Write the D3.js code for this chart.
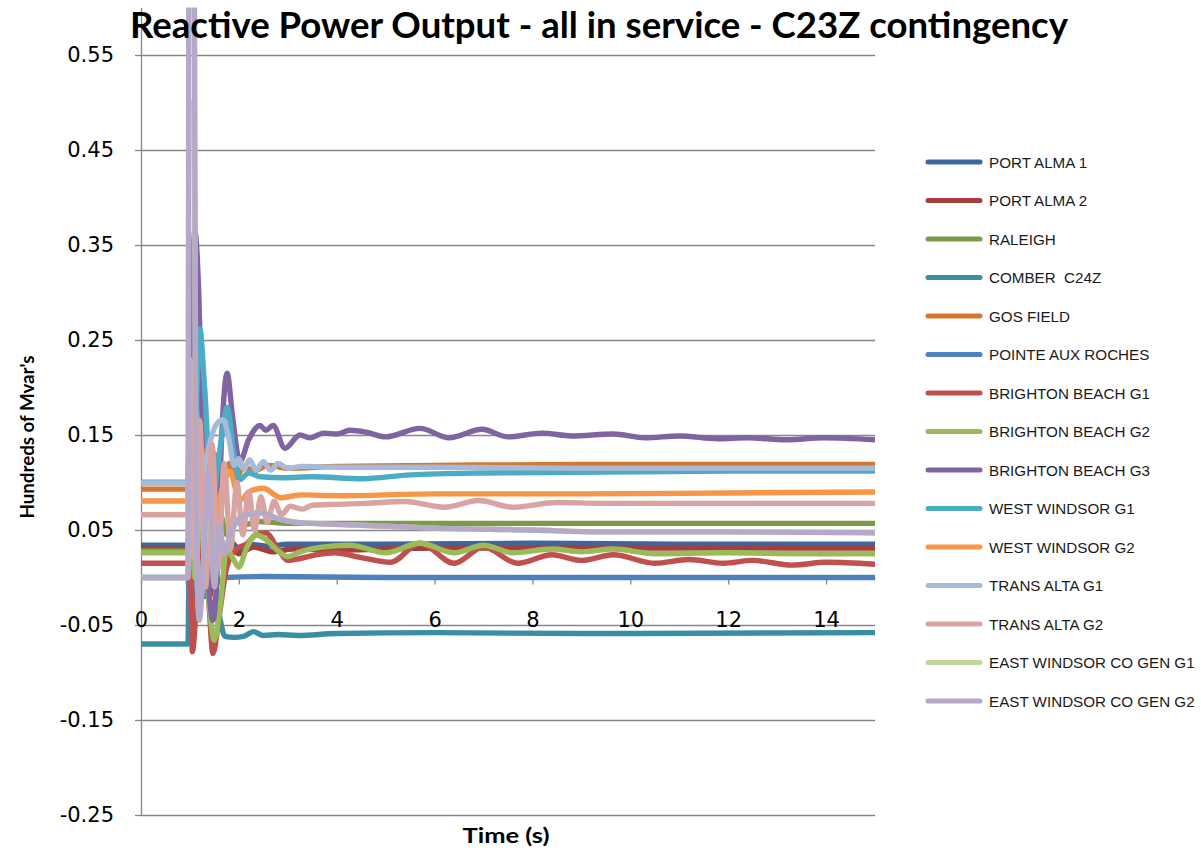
<!DOCTYPE html>
<html>
<head>
<meta charset="utf-8">
<script src="https://cdn.jsdelivr.net/npm/d3@7"></script>
<style>
  body { margin: 0; background: #fff; }
  svg { display: block; }
  .tick text { font-family: "DejaVu Sans", sans-serif; font-size: 21px; fill: #000; }
  .legend text { font-family: "Liberation Sans", Arial, sans-serif; font-size: 15.2px; fill: #1a1a1a; }
</style>
</head>
<body>
<svg id="chart" width="1201" height="856"></svg>
<script>
// series names and colours, same order as the legend
var seriesNames = ['PORT ALMA 1', 'PORT ALMA 2', 'RALEIGH', 'COMBER  C24Z', 'GOS FIELD',
  'POINTE AUX ROCHES', 'BRIGHTON BEACH G1', 'BRIGHTON BEACH G2', 'BRIGHTON BEACH G3',
  'WEST WINDSOR G1', 'WEST WINDSOR G2', 'TRANS ALTA G1', 'TRANS ALTA G2',
  'EAST WINDSOR CO GEN G1', 'EAST WINDSOR CO GEN G2'];
var seriesColors = ['#3D679C', '#A33F3C', '#7D9A48', '#3A8EA3', '#D3782F',
  '#4F81BD', '#C0504D', '#9BBB59', '#8064A2', '#4BACC6', '#F79646',
  '#A7BAD9', '#D8A3A1', '#C3D69B', '#B5A8C8'];

// axis ticks
var yTicks = [-0.25, -0.15, -0.05, 0.05, 0.15, 0.25, 0.35, 0.45, 0.55];
var xTicks = [0, 2, 4, 6, 8, 10, 12, 14];

// [time (s), hundreds of Mvar]
var portAlma1 = [[0,0.034],[0.96,0.034],[1.0,0.09],[1.1,-0.02],[1.25,0.06],[1.4,-0.01],[1.55,0.05],[1.7,0.02],[1.85,0.037],[2.0,0.03],[2.2,0.035],[2.6,0.033],[3,0.035],[5,0.035],[8,0.036],[11,0.035],[15,0.035]];
var portAlma2 = [[0,0.030],[0.96,0.030],[1.0,0.07],[1.1,-0.03],[1.25,0.05],[1.4,-0.02],[1.55,0.04],[1.7,0.01],[1.85,0.03],[2.0,0.025],[2.3,0.032],[2.7,0.027],[3.1,0.03],[4,0.029],[6,0.031],[9,0.031],[15,0.031]];
var raleigh = [[0,0.028],[0.96,0.028],[1.0,0.1],[1.12,-0.01],[1.3,0.09],[1.45,0.02],[1.6,0.07],[1.75,0.045],[1.9,0.06],[2.1,0.055],[2.4,0.059],[3,0.057],[6,0.057],[10,0.057],[15,0.057]];
var comber = [[0,-0.07],[0.96,-0.07],[0.98,0.0],[1.1,0.05],[1.3,-0.02],[1.45,0.02],[1.62,-0.045],[1.72,-0.062],[1.9,-0.063],[2.1,-0.062],[2.3,-0.057],[2.5,-0.061],[2.8,-0.06],[3.2,-0.061],[4,-0.059],[6,-0.058],[9,-0.059],[15,-0.058]];
var gosField = [[0,0.093],[0.96,0.093],[1.0,0.25],[1.08,0.1],[1.2,0.15],[1.35,0.06],[1.5,0.13],[1.65,0.09],[1.8,0.12],[1.95,0.105],[2.1,0.117],[2.3,0.112],[2.6,0.118],[3,0.115],[4,0.117],[6,0.118],[9,0.119],[15,0.119]];
var pointeAuxRoches = [[0,0],[0.96,0],[1.0,-0.04],[1.15,0.03],[1.3,-0.02],[1.45,0.02],[1.6,-0.005],[1.75,0.0],[2.5,0.001],[5,0.0],[15,0.0]];
var brightonG1 = [[0,0.015],[0.96,0.015],[0.99,0.05],[1.05,-0.078],[1.12,-0.04],[1.25,0.06],[1.38,-0.02],[1.47,-0.08],[1.6,-0.04],[1.75,0.01],[1.95,0.03],[2.15,0.035],[2.35,0.045],[2.55,0.047],[2.8,0.03],[3.0,0.018],[3.25,0.02],[3.6,0.024],[3.95,0.026],[4.5,0.021],[5.1,0.016],[5.7,0.036],[6.4,0.015],[7.0,0.032],[7.7,0.015],[8.4,0.024],[9.0,0.018],[9.65,0.024],[10.5,0.015],[11.2,0.019],[11.9,0.015],[12.5,0.018],[13.3,0.013],[14.0,0.016],[15,0.014]];
var brightonG2 = [[0,0.026],[0.96,0.026],[1.0,0.12],[1.1,0.0],[1.25,0.09],[1.38,-0.02],[1.5,-0.066],[1.62,-0.03],[1.75,0.03],[1.88,0.02],[2.0,0.011],[2.15,0.03],[2.35,0.045],[2.55,0.04],[2.8,0.028],[3.0,0.022],[3.25,0.027],[3.7,0.032],[4.27,0.034],[5.0,0.026],[5.7,0.036],[6.4,0.026],[7.0,0.034],[7.6,0.026],[8.4,0.03],[9.0,0.027],[9.65,0.03],[10.5,0.025],[12,0.026],[13.5,0.025],[15,0.025]];
var brightonG3 = [[0,0.1],[0.96,0.1],[1.0,0.2],[1.1,0.365],[1.18,0.3],[1.28,0.1],[1.4,-0.02],[1.47,-0.045],[1.55,0.0],[1.65,0.15],[1.76,0.215],[1.87,0.17],[2.02,0.122],[2.2,0.145],[2.43,0.16],[2.55,0.155],[2.7,0.16],[2.94,0.136],[3.25,0.15],[3.46,0.147],[3.73,0.152],[4.0,0.151],[4.27,0.155],[4.6,0.153],[5.0,0.148],[5.7,0.157],[6.3,0.147],[6.97,0.156],[7.5,0.148],[8.2,0.152],[8.8,0.149],[9.65,0.151],[10.3,0.147],[11.0,0.149],[11.8,0.146],[12.4,0.147],[13.2,0.145],[13.95,0.147],[15,0.145]];
var westWindsorG1 = [[0,0.1],[0.96,0.1],[1.0,0.18],[1.08,0.12],[1.2,0.262],[1.3,0.2],[1.45,0.08],[1.6,0.13],[1.76,0.179],[1.9,0.13],[2.02,0.103],[2.2,0.11],[2.45,0.106],[2.9,0.105],[3.5,0.106],[4.5,0.104],[5.5,0.108],[7,0.11],[9.4,0.111],[12,0.112],[15,0.112]];
var westWindsorG2 = [[0,0.0805],[0.96,0.0805],[1.0,0.22],[1.1,0.03],[1.22,0.14],[1.38,0.02],[1.55,0.07],[1.7,0.1],[1.82,0.112],[1.95,0.09],[2.05,0.082],[2.2,0.09],[2.5,0.094],[2.85,0.084],[3.3,0.087],[4,0.086],[6,0.088],[9,0.088],[12,0.089],[15,0.09]];
var transAltaG1 = [[0,0.0995],[0.96,0.0995],[1.0,0.2],[1.1,0.03],[1.25,0.1],[1.4,0.14],[1.55,0.162],[1.68,0.166],[1.8,0.145],[1.9,0.118],[2.0,0.125],[2.1,0.114],[2.22,0.124],[2.35,0.113],[2.5,0.122],[2.65,0.113],[2.8,0.12],[3.0,0.115],[3.3,0.117],[4,0.116],[6,0.116],[9,0.115],[15,0.115]];
var transAltaG2 = [[0,0.066],[0.96,0.066],[1.0,0.23],[1.08,0.02],[1.2,0.165],[1.32,-0.01],[1.45,0.14],[1.58,0.01],[1.7,0.12],[1.83,0.03],[1.96,0.1],[2.08,0.045],[2.2,0.09],[2.32,0.05],[2.45,0.085],[2.58,0.058],[2.72,0.08],[2.87,0.066],[3.05,0.075],[3.3,0.072],[3.5,0.076],[4,0.077],[4.6,0.078],[5.4,0.08],[6.2,0.074],[6.9,0.081],[7.6,0.074],[8.5,0.079],[9.4,0.078],[12,0.078],[15,0.078]];
// G1 runs under G2 for almost the whole run
var eastWindsorG1 = [[0,0],[0.96,0],[0.98,0.5],[1.09,0.5],[1.12,0.08],[1.19,-0.04],[1.28,0.02],[1.38,0.1],[1.5,-0.005],[1.6,0.055],[1.7,0.026],[1.82,0.045],[1.97,0.06],[2.15,0.066],[2.45,0.068],[2.8,0.062],[3.2,0.058],[4.5,0.055],[6,0.052],[8,0.05],[9.4,0.048],[12,0.048],[15,0.047]];
var eastWindsorG2 = [[0,0],[0.96,0],[0.98,0.64],[1.09,0.64],[1.12,0.1],[1.19,-0.045],[1.28,0.02],[1.38,0.11],[1.5,-0.01],[1.6,0.055],[1.7,0.025],[1.82,0.045],[1.97,0.06],[2.15,0.066],[2.45,0.068],[2.8,0.062],[3.2,0.058],[4.5,0.055],[6,0.052],[8,0.05],[9.4,0.048],[12,0.048],[15,0.047]];

var seriesData = [portAlma1, portAlma2, raleigh, comber, gosField, pointeAuxRoches,
  brightonG1, brightonG2, brightonG3, westWindsorG1, westWindsorG2,
  transAltaG1, transAltaG2, eastWindsorG1, eastWindsorG2];

// plot area (note: "top" is taken by window.top)
var plotLeft = 141, plotRight = 875, plotTop = 7.5, plotBottom = 815;
var svg = d3.select('#chart');

var x = d3.scaleLinear().domain([0, 15]).range([plotLeft, plotRight]);
var y = d3.scaleLinear().domain([-0.25, 0.6]).range([plotBottom, plotTop]);

// horizontal gridlines
svg.append('g')
  .attr('transform', 'translate(' + plotLeft + ',0)')
  .call(d3.axisLeft(y).tickValues(yTicks).tickSize(-(plotRight - plotLeft)).tickFormat(''))
  .call(function(g) {
    g.select('.domain').remove();
    g.selectAll('line').attr('stroke', '#878787').attr('stroke-width', 1.3);
  });

// y axis with labels
svg.append('g')
  .attr('transform', 'translate(' + plotLeft + ',0)')
  .call(d3.axisLeft(y).tickValues(yTicks).tickSizeInner(6).tickSizeOuter(0).tickPadding(21)
    .tickFormat(function(d) { return d3.format('.2f')(d).replace('\u2212', '-'); }))
  .call(function(g) {
    g.select('.domain').attr('stroke', '#878787').attr('stroke-width', 1.3);
    g.selectAll('line').attr('stroke', '#878787').attr('stroke-width', 1.3);
  });

// x axis crosses at zero
svg.append('g')
  .attr('transform', 'translate(0,' + y(0) + ')')
  .call(d3.axisBottom(x).tickValues(xTicks).tickSizeInner(7).tickSizeOuter(0).tickPadding(28)
    .tickFormat(d3.format('d')))
  .call(function(g) {
    g.select('.domain').attr('stroke', '#878787').attr('stroke-width', 1.3);
    g.selectAll('line').attr('stroke', '#878787').attr('stroke-width', 1.3);
  });

// clip lines to the plot area
svg.append('clipPath').attr('id', 'plot-clip')
  .append('rect')
  .attr('x', plotLeft).attr('y', plotTop)
  .attr('width', plotRight - plotLeft).attr('height', plotBottom - plotTop);

var line = d3.line()
  .x(function(d) { return x(d[0]); })
  .y(function(d) { return y(d[1]); })
  .curve(d3.curveMonotoneX);

svg.append('g')
  .attr('clip-path', 'url(#plot-clip)')
  .selectAll('path')
  .data(seriesData)
  .join('path')
  .attr('d', line)
  .attr('fill', 'none')
  .attr('stroke', function(d, i) { return seriesColors[i]; })
  .attr('stroke-width', 5.4)
  .attr('stroke-linejoin', 'round')
  .attr('stroke-linecap', 'round');

// legend
var legend = svg.append('g').attr('class', 'legend');
var item = legend.selectAll('g')
  .data(seriesNames)
  .join('g')
  .attr('transform', function(d, i) { return 'translate(0,' + (162 + i * 38.5) + ')'; });
item.append('line')
  .attr('x1', 928).attr('x2', 980)
  .attr('stroke', function(d, i) { return seriesColors[i]; })
  .attr('stroke-width', 5)
  .attr('stroke-linecap', 'round');
item.append('text')
  .attr('x', 989).attr('y', 5.5)
  .style('white-space', 'pre')
  .text(function(d) { return d; });

// titles
svg.append('text')
  .attr('x', 599).attr('y', 38)
  .attr('text-anchor', 'middle')
  .attr('font-family', 'Lato, "Open Sans", sans-serif')
  .attr('font-weight', 'bold')
  .attr('font-size', 37)
  .attr('textLength', 938)
  .attr('lengthAdjust', 'spacingAndGlyphs')
  .text('Reactive Power Output - all in service - C23Z contingency');

svg.append('text')
  .attr('transform', 'translate(34,437) rotate(-90)')
  .attr('text-anchor', 'middle')
  .attr('font-family', 'Lato, "Open Sans", sans-serif')
  .attr('font-weight', 'bold')
  .attr('font-size', 19)
  .attr('textLength', 163)
  .attr('lengthAdjust', 'spacingAndGlyphs')
  .text("Hundreds of Mvar's");

svg.append('text')
  .attr('x', 506).attr('y', 843)
  .attr('text-anchor', 'middle')
  .attr('font-family', 'Lato, "Open Sans", sans-serif')
  .attr('font-weight', 'bold')
  .attr('font-size', 20)
  .attr('textLength', 87)
  .attr('lengthAdjust', 'spacingAndGlyphs')
  .text('Time (s)');
</script>
</body>
</html>
